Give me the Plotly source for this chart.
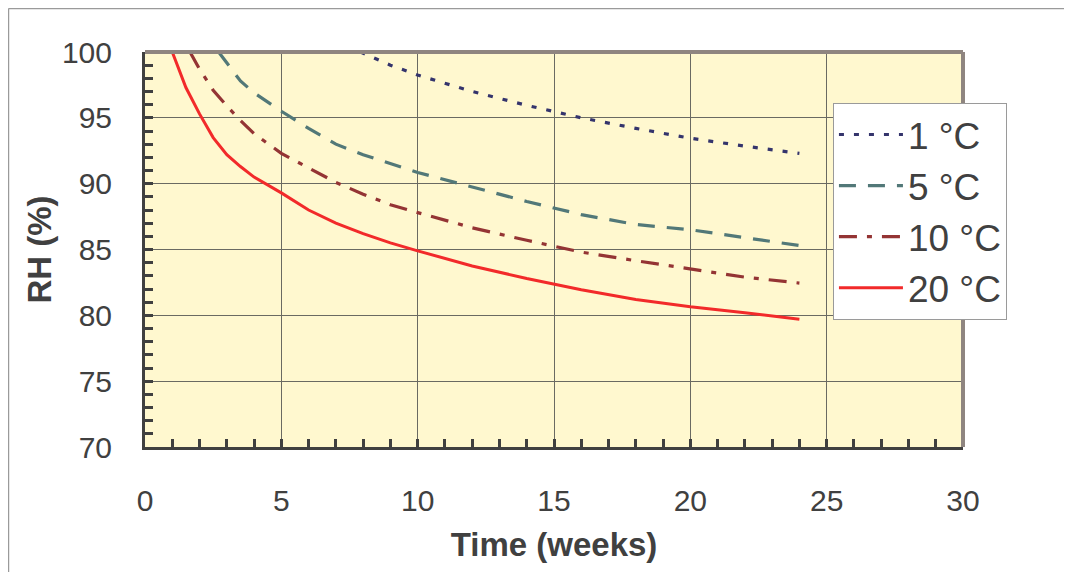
import plotly.graph_objects as go

# ---- data ----
weeks_1c = [7.9, 9, 10, 12, 14, 16, 18, 20, 22, 24]
rh_1c = [100.0, 99.0, 98.25, 97.0, 95.95, 95.0, 94.2, 93.45, 92.85, 92.3]

weeks_5c = [2.7, 3, 3.5, 4, 5, 6, 7, 8, 9, 10, 12, 14, 16, 18, 20, 22, 24]
rh_5c = [100.0, 99.2, 97.8, 96.9, 95.5, 94.2, 93.0, 92.2, 91.5, 90.85,
         89.75, 88.65, 87.65, 86.9, 86.5, 85.9, 85.3]

weeks_10c = [1.65, 2, 2.5, 3, 3.5, 4, 5, 6, 7, 8, 9, 10, 12, 14, 16, 18, 20, 22, 24]
rh_10c = [100.0, 98.7, 97.1, 95.9, 94.8, 93.8, 92.3, 91.2, 90.1, 89.2, 88.4,
          87.8, 86.65, 85.7, 84.8, 84.15, 83.5, 82.9, 82.45]

weeks_20c = [1, 1.5, 2, 2.5, 3, 3.5, 4, 5, 6, 7, 8, 9, 10, 12, 14, 16, 18, 20, 22, 24]
rh_20c = [100.0, 97.3, 95.3, 93.5, 92.2, 91.3, 90.5, 89.3, 88.0, 87.0, 86.2,
          85.5, 84.9, 83.75, 82.8, 81.95, 81.2, 80.65, 80.2, 79.7]

series_names = ["1 °C", "5 °C", "10 °C", "20 °C"]
x_title = "Time (weeks)"
y_title = "RH (%)"

TEXT = "#404040"
FONT = "Liberation Sans, Arial, sans-serif"

styles = [
    dict(color="#34346c", width=3.2, dash="5px,10px"),
    dict(color="#527878", width=3.2, dash="17px,12px"),
    dict(color="#943434", width=3.2, dash="18px,10px,5px,10px"),
    dict(color="#f22a2a", width=3, dash="solid"),
]

fig = go.Figure()
for i, (xs, ys) in enumerate([(weeks_1c, rh_1c), (weeks_5c, rh_5c),
                              (weeks_10c, rh_10c), (weeks_20c, rh_20c)]):
    fig.add_trace(go.Scatter(x=xs, y=ys, mode="lines", name=series_names[i],
                             line=styles[i], legendgroup=str(i)))

axis_common = dict(
    showline=True, linecolor=TEXT, linewidth=3, mirror=False,
    showgrid=True, gridcolor="#6a6a62", gridwidth=1,
    zeroline=False,
    ticks="inside", ticklen=8, tickwidth=3, tickcolor=TEXT,
    tickfont=dict(family=FONT, size=30, color=TEXT),
)

fig.update_xaxes(range=[0, 30], dtick=5, tick0=0,
                 minor=dict(ticks="inside", dtick=1, ticklen=8, tickwidth=3,
                            tickcolor=TEXT, showgrid=False),
                 ticklabelstandoff=25,
                 title=dict(text="<b>" + x_title + "</b>", standoff=17,
                            font=dict(family=FONT, size=33, color=TEXT)),
                 **axis_common)
fig.update_yaxes(range=[70, 100], dtick=5, tick0=70,
                 minor=dict(ticks="inside", dtick=1, ticklen=8, tickwidth=3,
                            tickcolor=TEXT, showgrid=False),
                 ticklabelstandoff=24,
                 title=dict(text="<b>" + y_title + "</b>", standoff=1,
                            font=dict(family=FONT, size=33, color=TEXT)),
                 **axis_common)

# top/right frame of plot area (grey-brown), and outer figure frame
fig.add_shape(type="line", xref="paper", yref="paper", x0=0, x1=1, y0=1, y1=1,
              line=dict(color="#8f8580", width=4))
fig.add_shape(type="line", xref="paper", yref="paper", x0=1, x1=1, y0=0, y1=1,
              line=dict(color="#8f8580", width=4))
fig.add_shape(type="line", xref="paper", yref="paper",
              x0=-0.1669, x1=1.15, y0=1.1101, y1=1.1101,
              line=dict(color="#9a9a9a", width=1.5))
fig.add_shape(type="line", xref="paper", yref="paper",
              x0=-0.1669, x1=-0.1669, y0=-0.36, y1=1.1101,
              line=dict(color="#9a9a9a", width=1.5))

fig.update_layout(
    width=1072, height=572,
    margin=dict(l=137, r=117, t=44, b=133),
    paper_bgcolor="white",
    plot_bgcolor="#fff8cf",
    font=dict(family=FONT, color=TEXT),
    legend=dict(
        x=0.841, y=0.871, xanchor="left", yanchor="top",
        bgcolor="white", bordercolor="#9a9a9a", borderwidth=1,
        font=dict(family=FONT, size=37, color=TEXT),
        tracegroupgap=0, traceorder="grouped",
        itemwidth=64,
    ),
)

fig.write_html("out.html")
